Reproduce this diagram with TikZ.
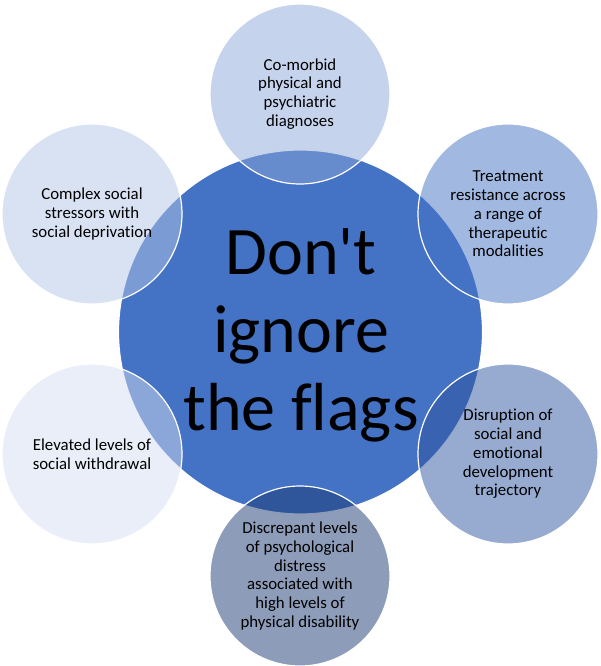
\documentclass[tikz,border=0pt]{standalone}
\usepackage{fontspec}
\setmainfont{Carlito}[Ligatures={TeX,NoCommon}]
\usepackage{tikz}
\usepackage{xcolor}
\definecolor{HubBlue}{RGB}{68,114,196}
\definecolor{FlagTop}{RGB}{139,167,217}
\definecolor{FlagUR}{RGB}{68,114,196}
\definecolor{FlagLR}{RGB}{47,85,159}
\definecolor{FlagBot}{RGB}{27,57,113}
\definecolor{FlagLL}{RGB}{211,221,241}
\definecolor{FlagUL}{RGB}{179,197,231}

\begin{document}
\begin{tikzpicture}[
  x=1pt,y=-1pt,
  hub/.style={circle,draw=white,fill=HubBlue,line width=1.2pt,
              minimum size=364pt,inner sep=0pt},
  flag/.style={circle,draw=white,line width=1.2pt,fill opacity=0.5,
               text opacity=1,minimum size=180pt,inner sep=0pt,align=center,
               font=\fontsize{16.8}{18.8}\selectfont},
]
\useasboundingbox (0,0) rectangle (601,666);
\node[hub] (hub) at (300.5,332) {};
\node[align=center,font=\fontsize{68}{78}\selectfont] (title) at (301,335)
  {Don\textquotesingle t\\ignore\\the flags};
\node[flag,fill=FlagTop] (morbid) at (300,94)
  {Co-morbid\\physical and\\psychiatric\\diagnoses};
\node[flag,fill=FlagUR] (resist) at (508,214)
  {Treatment\\resistance across\\a range of\\therapeutic\\modalities};
\node[flag,fill=FlagLR] (disrupt) at (508,454)
  {Disruption of\\social and\\emotional\\development\\trajectory};
\node[flag,fill=FlagBot] (distress) at (300,576)
  {Discrepant levels\\of psychological\\distress\\associated with\\high levels of\\physical disability};
\node[flag,fill=FlagLL] (withdraw) at (92,454)
  {Elevated levels of\\social withdrawal};
\node[flag,fill=FlagUL] (stress) at (92,214)
  {Complex social\\stressors with\\social deprivation};
\end{tikzpicture}
\end{document}
